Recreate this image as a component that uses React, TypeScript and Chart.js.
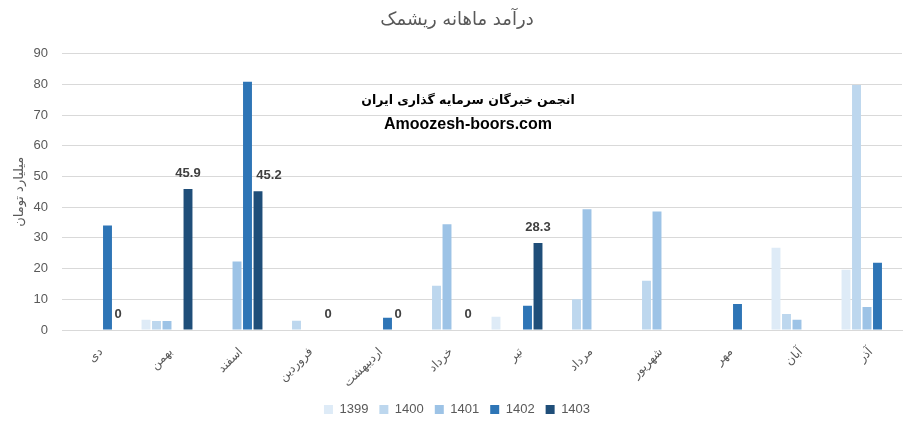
import React, { useEffect, useRef } from "react";
import { Chart, registerables } from "chart.js";

Chart.register(...registerables);

const categories = ["دی", "بهمن", "اسفند", "فروردین", "اردیبهشت", "خرداد", "تیر", "مرداد", "شهریور", "مهر", "آبان", "آذر"];
const seriesNames = ["1399", "1400", "1401", "1402", "1403"];
const s1399 = [null, 3.3, null, null, null, null, 4.3, null, null, null, 26.8, 19.6];
const s1400 = [null, 2.9, null, 3.0, null, 14.4, null, 10.0, 16.0, null, 5.2, 79.8];
const s1401 = [null, 2.9, 22.3, null, null, 34.4, null, 39.3, 38.6, null, 3.3, 7.5];
const s1402 = [34.0, null, 80.8, null, 4.0, null, 7.9, null, null, 8.5, null, 21.9];
const s1403 = [0, 45.9, 45.2, 0, 0, 0, 28.3, null, null, null, null, null];
const seriesColors = ["#DEEBF7", "#BDD7EE", "#9DC3E6", "#2E75B6", "#1F4E79"];
const yTicks = [0, 10, 20, 30, 40, 50, 60, 70, 80, 90];
const chartTitle = "درآمد ماهانه ریشمک";
const yTitle = "میلیارد تومان";
const watermark1 = "انجمن خبرگان سرمایه گذاری ایران";
const watermark2 = "Amoozesh-boors.com";

const labelPlugin = {
  id: "barLabels",
  afterDatasetsDraw(chart: any) {
    const ctx = chart.ctx;
    const idx = 4;
    const meta = chart.getDatasetMeta(idx);
    const prevMeta = chart.getDatasetMeta(3);
    const data = chart.data.datasets[idx].data;
    ctx.save();
    ctx.font = "bold 13px 'Liberation Sans', Arial, sans-serif";
    ctx.fillStyle = "#404040";
    ctx.textAlign = "center";
    ctx.textBaseline = "middle";
    meta.data.forEach((el: any, i: number) => {
      const v = data[i];
      if (v === null || v === undefined) return;
      const ly = el.y - 16;
      let lx = el.x;
      const prev = prevMeta.data[i];
      const pv = chart.data.datasets[3].data[i];
      // avoid overlapping a taller neighbouring bar
      if (v > 0 && pv !== null && pv !== undefined && prev && prev.y < ly - 6) lx += 11;
      ctx.fillText(String(v), lx, ly);
    });
    const cx = 468;
    const y = chart.scales.y;
    ctx.fillStyle = "#000000";
    ctx.font = "bold 12.5px 'DejaVu Sans', sans-serif";
    ctx.fillText(watermark1, cx, y.getPixelForValue(74.5));
    ctx.font = "bold 16px 'Liberation Sans', Arial, sans-serif";
    ctx.fillText(watermark2, cx, y.getPixelForValue(67));
    ctx.restore();
  },
};

export default function App() {
  const ref = useRef<HTMLCanvasElement | null>(null);
  useEffect(() => {
    document.body.style.margin = "0";
    const data = [s1399, s1400, s1401, s1402, s1403];
    const chart = new Chart(ref.current as HTMLCanvasElement, {
      type: "bar",
      data: {
        labels: categories,
        datasets: seriesNames.map((n, i) => ({
          label: n,
          data: data[i] as any,
          backgroundColor: seriesColors[i],
          borderWidth: 0,
          categoryPercentage: 0.75,
          barPercentage: 0.85,
        })),
      },
      options: {
        animation: false,
        responsive: false,
        maintainAspectRatio: false,
        layout: { padding: { left: 12, right: 13, top: 0, bottom: 1 } },
        plugins: {
          title: {
            display: true,
            text: chartTitle,
            color: "#595959",
            font: { family: "'DejaVu Sans', sans-serif", size: 18, weight: "normal" },
            padding: { top: 10, bottom: 22 },
          },
          legend: {
            position: "bottom",
            labels: {
              boxWidth: 9,
              boxHeight: 9,
              color: "#595959",
              font: { family: "'Liberation Sans', Arial, sans-serif", size: 13 },
              padding: 11,
            },
          },
          tooltip: { enabled: false },
        },
        scales: {
          x: {
            grid: { display: false },
            border: { color: "#d9d9d9", width: 1 },
            ticks: {
              color: "#595959",
              font: { family: "'DejaVu Sans', sans-serif", size: 12 },
              minRotation: 45,
              maxRotation: 45,
              autoSkip: false,
              padding: 7,
              labelOffset: 4,
            },
            afterFit(scale: any) {
              scale.height = 62;
            },
          },
          y: {
            min: 0,
            max: 90,
            afterBuildTicks(scale: any) {
              scale.ticks = yTicks.map((v) => ({ value: v }));
            },
            grid: { color: "#d9d9d9", lineWidth: 1, drawTicks: false },
            border: { display: false },
            ticks: {
              color: "#595959",
              font: { family: "'Liberation Sans', Arial, sans-serif", size: 13 },
              padding: 14,
            },
            title: {
              display: true,
              text: yTitle,
              color: "#595959",
              font: { family: "'DejaVu Sans', sans-serif", size: 13 },
              padding: { top: 0, bottom: 4 },
            },
            afterFit(scale: any) {
              scale.width = 50;
            },
          },
        },
      },
      plugins: [labelPlugin],
    });
    return () => chart.destroy();
  }, []);
  return (
    <div style={{ position: "absolute", left: 0, top: 0, width: 915, height: 427, background: "#fff" }}>
      <canvas ref={ref} width={915} height={427} style={{ width: 915, height: 427 }} />
    </div>
  );
}
